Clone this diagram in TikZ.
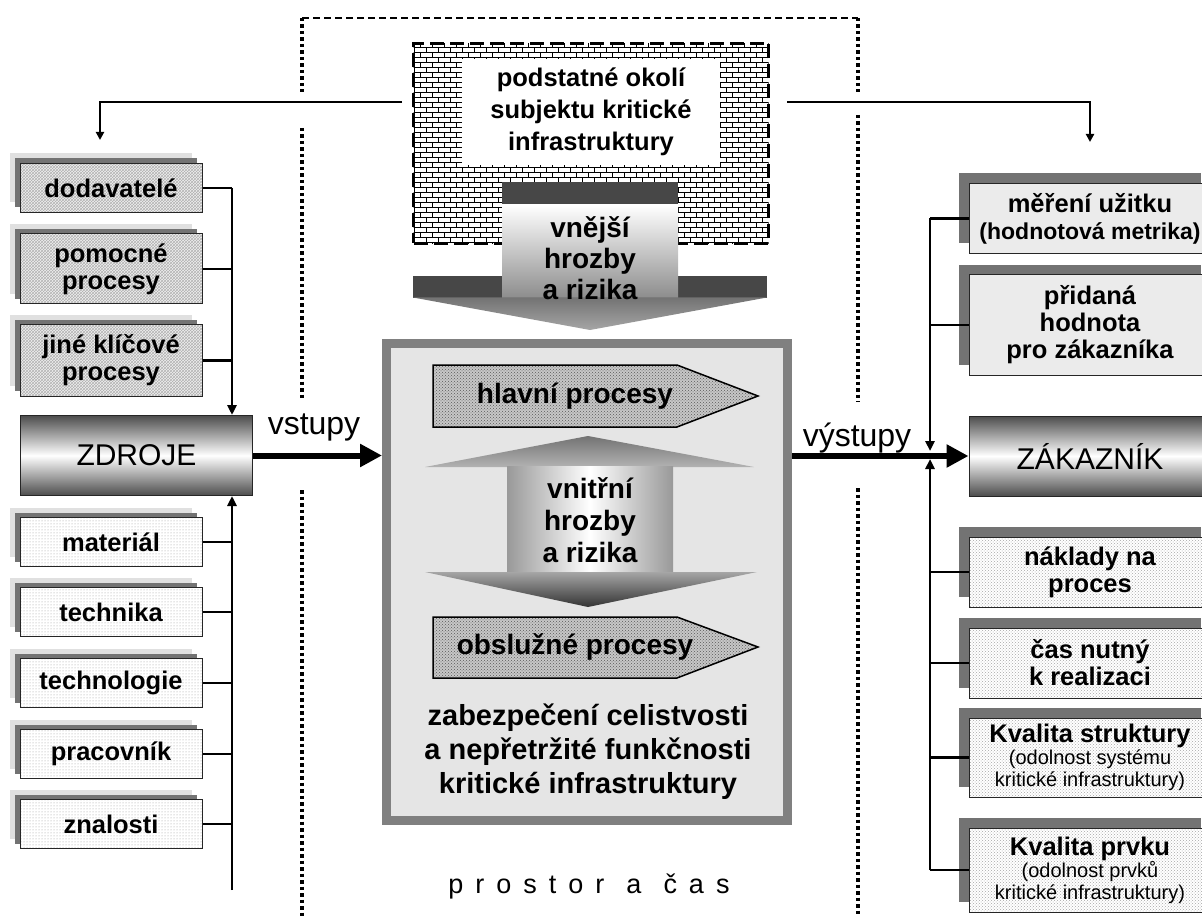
\documentclass[tikz,border=0pt]{standalone}
\usepackage{fontspec}
\setmainfont{Liberation Sans}
\usetikzlibrary{arrows.meta,patterns,shadows}

\pgfdeclarepatternformonly{smallbricks}{\pgfqpoint{-1pt}{-1pt}}{\pgfqpoint{13pt}{11pt}}{\pgfqpoint{12pt}{10pt}}{%
  \pgfsetlinewidth{0.9pt}%
  \pgfpathmoveto{\pgfqpoint{0pt}{0pt}}\pgfpathlineto{\pgfqpoint{12pt}{0pt}}%
  \pgfpathmoveto{\pgfqpoint{0pt}{5pt}}\pgfpathlineto{\pgfqpoint{12pt}{5pt}}%
  \pgfpathmoveto{\pgfqpoint{0pt}{0pt}}\pgfpathlineto{\pgfqpoint{0pt}{5pt}}%
  \pgfpathmoveto{\pgfqpoint{6pt}{5pt}}\pgfpathlineto{\pgfqpoint{6pt}{10pt}}%
  \pgfusepath{stroke}}

\newcommand{\detailfont}{\fontsize{20}{22}\selectfont\mdseries}

\tikzset{
  boxfont/.style={font=\fontsize{25.5}{27}\selectfont\bfseries},
  lshadow/.style={drop shadow={shadow xshift=-10pt,shadow yshift=10pt,fill=black!12,opacity=1},
                  drop shadow={shadow xshift=-5pt,shadow yshift=5pt,fill=black!55,opacity=1}},
  rshadow/.style={drop shadow={shadow xshift=-10pt,shadow yshift=10pt,fill=black!55,opacity=1}},
  lbox/.style={boxfont, draw=black!85, line width=1pt, minimum width=182pt, minimum height=49pt, align=center, inner sep=1pt, lshadow},
  weave/.style={lbox, preaction={fill=black!6}, pattern=crosshatch, pattern color=black!30},
  speck/.style={lbox, preaction={fill=white}, pattern=dots, pattern color=black!40},
  rbox/.style={boxfont, draw=black!85, line width=1pt, minimum width=242pt, minimum height=70pt, align=center, inner sep=1pt, rshadow},
  plainr/.style={rbox, fill=black!8},
  checkr/.style={rbox, preaction={fill=white}, pattern=crosshatch dots, pattern color=black!35},
  hub/.style={draw=black!85, line width=1pt, minimum height=80pt, font=\fontsize{30}{32}\selectfont,
              top color=black!70, bottom color=black!70, middle color=white},
  bus/.style={line width=2.5pt},
  feed/.style={line width=2.5pt, -{Triangle[length=10pt,width=9pt]}},
  flow/.style={line width=6pt, -{Triangle[length=22pt,width=22pt]}},
  procarrow/.style={draw=black, line width=1.5pt, preaction={fill=black!22}, pattern=crosshatch dots, pattern color=black!65},
  frameside/.style={line width=3.5pt, dash pattern=on 3.5pt off 3pt},
  frametop/.style={line width=2.5pt, dash pattern=on 7pt off 4pt},
}

\begin{document}
\begin{tikzpicture}[x=1pt,y=-1pt]
  \useasboundingbox (0,0) rectangle (1202,917);

  % space and time
  \draw[frametop] (302,18) -- (858,18);
  \draw[frameside] (302,18) -- (302,92) (302,128) -- (302,400) (302,490) -- (302,917);
  \draw[frameside] (858,18) -- (858,92) (858,115) -- (858,402) (858,488) -- (858,917);

  \path
    coordinate (busL)    at (232,0)
    coordinate (busR)    at (930,0)
    coordinate (busLend) at (232,890)
    coordinate (join)    at (930,455)
    coordinate (tl)      at (100,102)
    coordinate (tlend)   at (100,140)
    coordinate (tr)      at (1090,102)
    coordinate (trend)   at (1090,142)
  ;

  % surroundings
  \node[draw, line width=3pt, dash pattern=on 14pt off 6pt, preaction={fill=white}, pattern=smallbricks,
        minimum width=355pt, minimum height=200pt] (outer) at (591,143.5) {};
  \node[fill=white, minimum width=258pt, minimum height=106pt, inner sep=0pt, align=center,
        font=\fontsize{25.5}{32}\selectfont\bfseries] (env) at (591,112) {podstatné okolí\\subjektu kritické\\infrastruktury};

  % external threats
  \fill[black!72] (502,182) rectangle (678,205);
  \fill[black!72] (413,276) rectangle (767,298);
  \shade[top color=white, bottom color=black!45] (502,205) rectangle (678,298);
  \shade[top color=black!55, bottom color=black!35] (413,297.5) -- (767,297.5) -- (590,330) -- cycle;
  \node[align=center, font=\fontsize{28}{31}\selectfont\bfseries] (ext) at (590,258) {vnější\\hrozby\\a rizika};

  % subject
  \node[draw=black!50, line width=9pt, fill=black!10, minimum width=401pt, minimum height=477pt] (core) at (587,582) {};
  \draw[procarrow] (433,365) -- (677,365) -- (758,396) -- (677,427) -- (433,427) -- cycle;
  \node[font=\fontsize{28}{29}\selectfont\bfseries] (mainproc) at (575,396) {hlavní procesy};
  \shade[top color=black!55, bottom color=black!30] (425,467) -- (588,436) -- (754,467) -- cycle;
  \shade[left color=black!40, right color=black!40, middle color=white] (507,466) rectangle (673,573);
  \shade[top color=black!35, bottom color=black!80] (425,572) -- (757,572) -- (588,607) -- cycle;
  \node[align=center, font=\fontsize{28}{32}\selectfont\bfseries] (inner) at (590,520) {vnitřní\\hrozby\\a rizika};
  \draw[procarrow] (433,617) -- (677,617) -- (758,647) -- (677,678) -- (433,678) -- cycle;
  \node[font=\fontsize{28}{29}\selectfont\bfseries] (servproc) at (575,647) {obslužné procesy};
  \node[align=center, font=\fontsize{29}{34}\selectfont\bfseries] (goal) at (588,752)
    {zabezpečení celistvosti\\a nepřetržité funkčnosti\\kritické infrastruktury};
  \node[font=\fontsize{27}{28}\selectfont] (space) at (589,886)
    {\spaceskip=12pt p r o s t o r\hspace{22pt}a\hspace{22pt}č a s};

  % resources
  \node[weave] (dod) at (111,188) {dodavatelé};
  \node[weave, minimum height=70pt] (pom) at (111,269) {pomocné\\procesy};
  \node[weave, minimum height=71pt] (jine) at (111,360.5) {jiné klíčové\\procesy};
  \node[hub, minimum width=232pt] (zdroje) at (136.5,455.5) {ZDROJE};
  \node[speck] (mat)   at (111,542) {materiál};
  \node[speck] (tech)  at (111,612) {technika};
  \node[speck] (techn) at (111,683) {technologie};
  \node[speck] (prac)  at (111,754) {pracovník};
  \node[speck] (znal)  at (111,824) {znalosti};

  % customer
  \node[plainr] (meas) at (1090,218.5) {měření užitku\\{\fontsize{23}{25}\selectfont(hodnotová metrika)}};
  \node[plainr, minimum height=100pt] (added) at (1090,325) {přidaná\\hodnota\\pro zákazníka};
  \node[hub, minimum width=242pt] (zak) at (1090,456) {ZÁKAZNÍK};
  \node[checkr] (cost) at (1090,572) {náklady na\\proces};
  \node[checkr] (dur)  at (1090,663) {čas nutný\\k realizaci};
  \node[checkr, minimum height=79pt] (qstruct) at (1090,757.5)
    {Kvalita struktury\\[-5pt]{\detailfont (odolnost systému}\\[-5pt]{\detailfont kritické infrastruktury)}};
  \node[checkr, minimum height=84pt] (qelem) at (1090,870)
    {Kvalita prvku\\[-5pt]{\detailfont (odolnost prvků}\\[-5pt]{\detailfont kritické infrastruktury)}};

  \foreach \n in {dod,pom,jine,mat,tech,techn,prac,znal}
    \draw[bus] (\n.east) -- (\n.east -| busL);
  \draw[feed] (dod.east -| busL) -- (zdroje.north -| busL);
  \draw[feed] (busLend) -- (zdroje.south -| busL);

  \foreach \n in {meas,added,cost,dur,qstruct,qelem}
    \draw[bus] (\n.west) -- (\n.west -| busR);
  \draw[feed, shorten >=4pt] (meas.west -| busR) -- (join);
  \draw[feed, shorten >=4pt] (qelem.west -| busR) -- (join);

  \draw[line width=2pt, -{Triangle[length=8pt,width=8pt]}, shorten <=10pt] (outer.west |- tl) -- (tl) -- (tlend);
  \draw[line width=2pt, -{Triangle[length=8pt,width=8pt]}, shorten <=17pt] (outer.east |- tr) -- (tr) -- (trend);

  \draw[flow] (zdroje.east) -- (zdroje.east -| core.west);
  \draw[flow] (core.east |- zak.west) -- (zak.west);
  \node[font=\fontsize{32}{33}\selectfont] (inlabel)  at (314,427) {vstupy};
  \node[font=\fontsize{32}{33}\selectfont] (outlabel) at (857,438) {výstupy};
\end{tikzpicture}
\end{document}
